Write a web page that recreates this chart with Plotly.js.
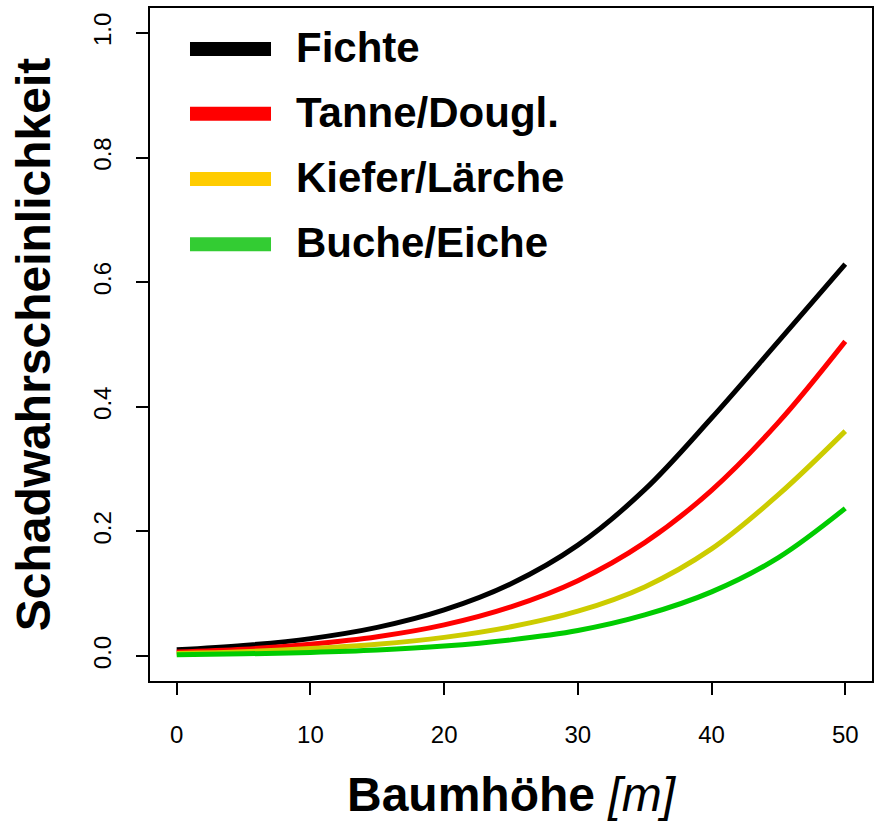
<!DOCTYPE html>
<html>
<head>
<meta charset="utf-8">
<script src="https://cdn.plot.ly/plotly-3.0.1.min.js"></script>
<style>html,body{margin:0;padding:0;background:#fff;}#chart{width:876px;height:822px;}</style>
</head>
<body>
<div id="chart"></div>
<script>
// Tree height (m)
var heights = [0, 5, 10, 15, 20, 25, 30, 35, 40, 45, 50];
// Damage probability per species group
var fichte = [0.010, 0.017, 0.028, 0.046, 0.074, 0.116, 0.178, 0.267, 0.382, 0.505, 0.629];
var tanne  = [0.0065, 0.011, 0.019, 0.031, 0.050, 0.079, 0.121, 0.182, 0.266, 0.375, 0.505];
var kiefer = [0.004, 0.007, 0.012, 0.019, 0.030, 0.047, 0.072, 0.111, 0.172, 0.259, 0.361];
var buche  = [0.0022, 0.0036, 0.0059, 0.0097, 0.016, 0.026, 0.041, 0.066, 0.103, 0.158, 0.237];

var seriesNames = ["Fichte", "Tanne/Dougl.", "Kiefer/Lärche", "Buche/Eiche"];
var seriesValues = [fichte, tanne, kiefer, buche];
var lineColors = ["#000000", "#FF0000", "#CCCC00", "#00CC00"];
var legendColors = ["#000000", "#FF0000", "#FFCC00", "#33CC33"];

var xTicks = [0, 10, 20, 30, 40, 50];
var yTicks = [0, 0.2, 0.4, 0.6, 0.8, 1.0];

var FONT = "Liberation Sans, Arial, Helvetica, sans-serif";

var traces = seriesValues.map(function (vals, i) {
  return {
    x: heights, y: vals, type: "scatter", mode: "lines", name: seriesNames[i],
    line: {color: lineColors[i], width: 5, shape: "spline", smoothing: 1},
    showlegend: false, hoverinfo: "skip"
  };
});

// Legend drawn as layout shapes + annotations (long thick swatches as in R)
var legendRowY = [0.939, 0.843, 0.746, 0.649];
var shapes = [], annotations = [];
seriesNames.forEach(function (nm, i) {
  shapes.push({type: "line", xref: "paper", yref: "paper",
    x0: 0.0554, x1: 0.1676, y0: legendRowY[i], y1: legendRowY[i],
    line: {color: legendColors[i], width: 14}});
  annotations.push({xref: "paper", yref: "paper", x: 0.2, y: legendRowY[i] + 0.002,
    xanchor: "left", yanchor: "middle", showarrow: false,
    text: "<b>" + nm + "</b>", font: {family: FONT, size: 42, color: "#000"}});
});

var layout = {
  width: 876, height: 822,
  margin: {l: 150, r: 4, t: 8, b: 141, pad: 0},
  paper_bgcolor: "#fff", plot_bgcolor: "#fff",
  font: {family: FONT, color: "#000"},
  showlegend: false,
  xaxis: {
    range: [-2, 52], tickvals: xTicks, ticktext: xTicks.map(String),
    showgrid: false, zeroline: false,
    showline: true, mirror: true, linecolor: "#000", linewidth: 2,
    ticks: "outside", ticklen: 12, tickwidth: 2, tickcolor: "#000",
    tickfont: {family: FONT, size: 24, color: "#000"},
    ticklabelstandoff: 19,
    title: {text: "<b>Baumhöhe</b> <i>[m]</i>\u00A0\u00A0", font: {family: FONT, size: 48, color: "#000"}, standoff: 31}
  },
  yaxis: {
    range: [-0.04, 1.04], tickvals: yTicks, ticktext: yTicks.map(function (v) { return v.toFixed(1); }),
    showgrid: false, zeroline: false,
    showline: true, mirror: true, linecolor: "#000", linewidth: 2,
    ticks: "outside", ticklen: 12, tickwidth: 2, tickcolor: "#000",
    tickangle: -90,
    tickfont: {family: FONT, size: 24, color: "#000"},
    ticklabelstandoff: 15,
    title: {text: "<b>Schadwahrscheinlichkeit</b>", font: {family: FONT, size: 48, color: "#000"}, standoff: 24}
  },
  shapes: shapes,
  annotations: annotations
};

Plotly.newPlot("chart", traces, layout, {staticPlot: true, displayModeBar: false});
</script>
</body>
</html>
